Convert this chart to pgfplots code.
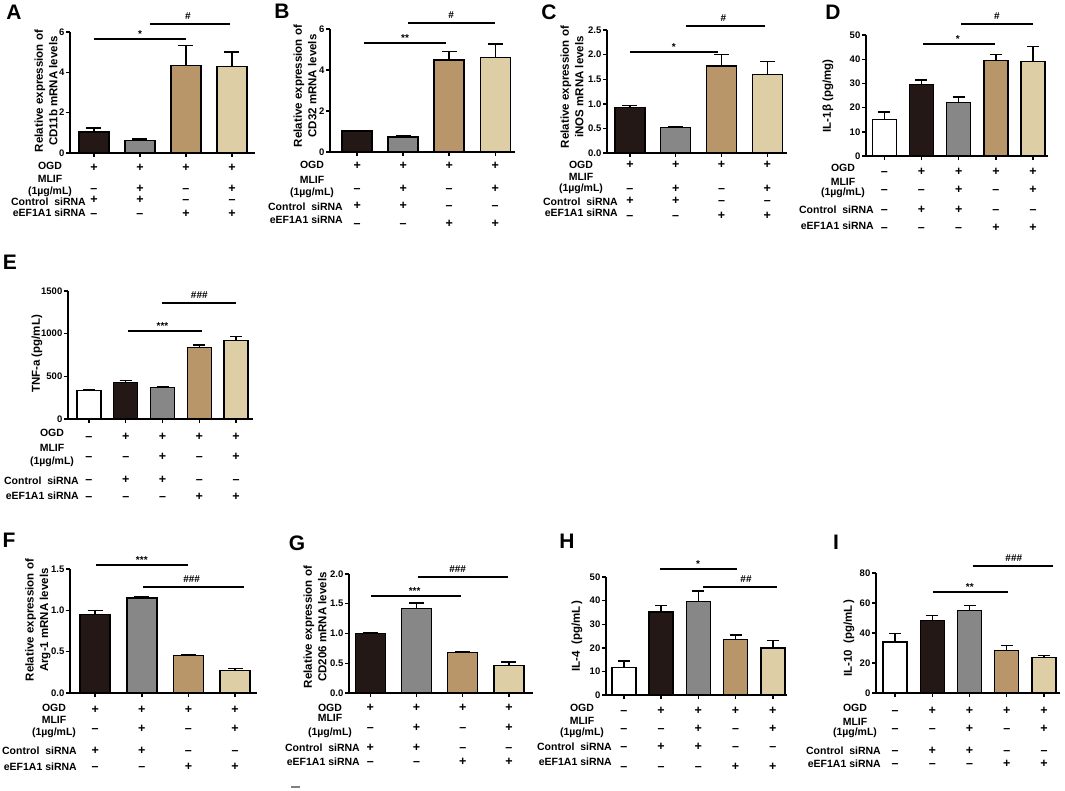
\documentclass[border=0pt]{standalone}
\usepackage{pgfplots}
\pgfplotsset{compat=1.18}
\usepackage{fontspec}
\setmainfont{Liberation Sans}

\definecolor{cDk}{HTML}{231815}
\definecolor{cGr}{HTML}{878787}
\definecolor{cTn}{HTML}{B8966A}
\definecolor{cBg}{HTML}{DDCEA6}

\newcommand\fs[1]{\fontsize{#1}{#1}\selectfont\bfseries}
\protected\def\sg#1{\if#1+{+}\else\textendash\fi}

% one row of +/- under the bars, #1 = px below the x axis
\newcommand{\signs}[2]{\foreach \s [count=\i] in {#2}{%
  \edef\tmp{\noexpand\node[sgn] at (axis cs:\i,0) [yshift=-#1pt] {\noexpand\sg{\s}};}\tmp}}
\newcommand{\four}[4]{\signs{#1}{+,+,+,+}\signs{#2}{-,+,-,+}\signs{#3}{+,+,-,-}\signs{#4}{-,-,+,+}}
\newcommand{\five}[4]{\signs{#1}{-,+,+,+,+}\signs{#2}{-,-,+,-,+}\signs{#3}{-,+,+,-,-}\signs{#4}{-,-,-,+,+}}

% significance line: x1, x2, y, x of text, text, text lift
\newcommand{\sig}[6]{\draw[line width=1.4pt] (axis cs:#1,#3) -- (axis cs:#2,#3);
  \node[anchor=south, inner sep=0pt, font=\fs{10}] at (axis cs:#4,#3) [yshift=#6pt] {#5};}

\newcommand{\pb}[4]{\addplot[bb, fill=#1] coordinates {(#2,#3) +- (0,#4)};}

\newcommand{\rowlabels}[7]{%
  \node[lab] at (#1pt,-#3pt) {OGD};
  \node[lab] at (#1pt,-#4pt) {MLIF};
  \node[lab] at (#1pt,-#5pt) {(1µg/mL)};
  \node[lab, anchor=east] at (#2pt,-#6pt) {Control\ \ siRNA};
  \node[lab, anchor=east] at (#2pt,-#7pt) {eEF1A1 siRNA};}

\pgfplotsset{
  panel/.style={
    scale only axis, anchor=south west, clip=false,
    axis lines=left, axis line style={line width=1.4pt, -},
    tick align=outside, major tick length=4pt,
    tick style={line width=1.4pt, black},
    xticklabels={}, ymin=0, scaled y ticks=false,
    yticklabel style={font=\fs{9.5}, inner sep=1.5pt},
    /pgf/number format/assume math mode=true,
    /pgf/number format/1000 sep={},
    error bars/y dir=plus, error bars/y explicit,
    error bars/error bar style={line width=1.4pt, black},
  },
  four/.style={panel, xtick={1,2,3,4}, bar width=30pt,
    error bars/error mark options={rotate=90, mark size=7.5pt, line width=1.4pt, black}},
  five/.style={panel, xtick={1,2,3,4,5}, bar width=24pt,
    error bars/error mark options={rotate=90, mark size=6pt, line width=1.4pt, black}},
  dec/.style={yticklabel style={/pgf/number format/fixed, /pgf/number format/fixed zerofill,
    /pgf/number format/precision=1}},
  bb/.style={ybar, bar shift=0pt, draw=black, line width=1.4pt},
}

\begin{document}
\begin{tikzpicture}[
  sgn/.style={font=\fs{12.5}, inner sep=0pt, text height=7pt, text depth=0pt},
  lab/.style={font=\fs{10.5}, inner sep=0pt},
  yl/.style={rotate=90, align=center, inner sep=0pt, font=\fontsize{11.5}{14.5}\selectfont\bfseries},
  pl/.style={font=\fs{21}, inner sep=0pt}]
\useasboundingbox (0,0) rectangle (1065pt,-790pt);

% ---- A
\begin{axis}[four, at={(70pt,-153pt)}, width=185pt, height=121pt,
  xmin=0.48, xmax=4.5, ymax=6, ytick={0,2,4,6}]
\pb{cDk}{1}{1.04}{0.20}
\pb{cGr}{2}{0.63}{0.06}
\pb{cTn}{3}{4.35}{0.99}
\pb{cBg}{4}{4.30}{0.70}
\sig{1}{3}{5.65}{2}{*}{1}
\sig{2.22}{3.96}{6.4}{3.04}{\#}{4}
\four{15}{36}{47}{61}
\end{axis}

% ---- B
\begin{axis}[four, at={(330pt,-152pt)}, width=185pt, height=123pt,
  xmin=0.41, xmax=4.43, ymax=6, ytick={0,2,4,6}]
\pb{cDk}{1}{1.03}{0.03}
\pb{cGr}{2}{0.74}{0.04}
\pb{cTn}{3}{4.49}{0.41}
\pb{cBg}{4}{4.62}{0.64}
\sig{1.15}{2.93}{5.32}{2.04}{**}{1}
\sig{2.1}{4.0}{6.3}{3.04}{\#}{4}
\four{14}{37}{54}{72}
\end{axis}

% ---- C
\begin{axis}[four, dec, at={(607pt,-153pt)}, width=180pt, height=123pt,
  xmin=0.5, xmax=4.43, ymax=2.5, ytick={0,0.5,1,1.5,2,2.5}]
\pb{cDk}{1}{0.92}{0.05}
\pb{cGr}{2}{0.52}{0.02}
\pb{cTn}{3}{1.77}{0.23}
\pb{cBg}{4}{1.60}{0.26}
\sig{1.0}{2.93}{2.05}{1.96}{*}{1}
\sig{2.22}{3.96}{2.58}{3.04}{\#}{4}
\four{12}{36}{48}{63}
\end{axis}

% ---- D
\begin{axis}[five, at={(866pt,-156pt)}, width=182pt, height=121pt,
  xmin=0.51, xmax=5.4, ymax=50, ytick={0,10,20,30,40,50}]
\pb{white}{1}{15.1}{3.1}
\pb{cDk}{2}{29.6}{1.8}
\pb{cGr}{3}{22.0}{2.4}
\pb{cTn}{4}{39.4}{2.6}
\pb{cBg}{5}{39.0}{6.2}
\sig{2.05}{3.97}{46.3}{2.98}{*}{1}
\sig{3.07}{5.0}{54.5}{4.03}{\#}{4}
\five{16}{34}{54}{72}
\end{axis}

% ---- E
\begin{axis}[five, at={(68pt,-419pt)}, width=185pt, height=128pt,
  xmin=0.43, xmax=5.46, ymax=1500, ytick={0,500,1000,1500}]
\pb{white}{1}{332}{16}
\pb{cDk}{2}{430}{19}
\pb{cGr}{3}{371}{8}
\pb{cTn}{4}{836}{31}
\pb{cBg}{5}{918}{47}
\sig{2.06}{4.07}{1031}{3.0}{***}{1}
\sig{2.99}{5.0}{1359}{4.0}{\#\#\#}{4}
\five{18}{38}{61}{78}
\end{axis}

% ---- F
\begin{axis}[four, dec, at={(70pt,-693pt)}, width=187pt, height=124pt,
  xmin=0.46, xmax=4.47, ymax=1.5, ytick={0,0.5,1,1.5}]
\pb{cDk}{1}{0.95}{0.05}
\pb{cGr}{2}{1.15}{0.01}
\pb{cTn}{3}{0.456}{0.008}
\pb{cBg}{4}{0.274}{0.026}
\sig{1.02}{3.0}{1.548}{2.0}{***}{1}
\sig{2.03}{4.2}{1.28}{3.07}{\#\#\#}{4}
\four{17}{36}{58}{74}
\end{axis}

% ---- G
\begin{axis}[four, dec, at={(349pt,-693pt)}, width=184pt, height=119pt,
  xmin=0.54, xmax=4.52, ymax=2, ytick={0,0.5,1,1.5,2}]
\pb{cDk}{1}{1.00}{0.02}
\pb{cGr}{2}{1.42}{0.09}
\pb{cTn}{3}{0.68}{0.01}
\pb{cBg}{4}{0.46}{0.06}
\sig{1.02}{2.96}{1.63}{1.96}{***}{1}
\sig{2.04}{3.98}{1.95}{2.89}{\#\#\#}{4}
\four{15}{35}{55}{69}
\end{axis}

% ---- H
\begin{axis}[five, at={(606pt,-695pt)}, width=181pt, height=118pt,
  xmin=0.52, xmax=5.38, ymax=50, ytick={0,10,20,30,40,50}]
\pb{white}{1}{11.7}{2.7}
\pb{cDk}{2}{35.2}{2.8}
\pb{cGr}{3}{39.7}{4.4}
\pb{cTn}{4}{23.5}{1.9}
\pb{cBg}{5}{20.0}{3.0}
\sig{1.97}{4.03}{53.4}{2.99}{*}{1}
\sig{3.12}{5.1}{45.8}{4.28}{\#\#}{4}
\five{16}{34}{52}{72}
\end{axis}

% ---- I
\begin{axis}[five, at={(876pt,-693pt)}, width=184pt, height=120pt,
  xmin=0.49, xmax=5.43, ymax=80, ytick={0,20,40,60,80}]
\pb{white}{1}{34.0}{5.6}
\pb{cDk}{2}{48.4}{3.2}
\pb{cGr}{3}{55.1}{3.3}
\pb{cTn}{4}{28.2}{3.4}
\pb{cBg}{5}{23.8}{1.3}
\sig{2.02}{4.03}{67.3}{3.01}{**}{1}
\sig{3.09}{5.24}{84.7}{4.19}{\#\#\#}{4}
\five{18}{36}{58}{71}
\end{axis}

% y axis titles
\node[yl] at (46pt,-91pt) {Relative expression of\\CD11b mRNA levels};
\node[yl] at (305pt,-86pt) {Relative expression of\\CD32 mRNA levels};
\node[yl] at (572pt,-87pt) {Relative expression of\\iNOS mRNA levels};
\node[yl] at (828pt,-96pt) {IL-1β (pg/mg)};
\node[yl] at (37pt,-354pt) {TNF-a (pg/mL)};
\node[yl] at (38pt,-620pt) {Relative expression of\\Arg-1 mRNA levels};
\node[yl] at (315pt,-627pt) {Relative expression of\\CD206 mRNA levels};
\node[yl] at (577pt,-636pt) {IL-4\ \ (pg/mL\,)};
\node[yl] at (849pt,-638pt) {IL-10\ \ (pg/mL\,)};

% treatment rows
\rowlabels{50}{86}{166}{179}{192}{202}{213}
\rowlabels{312}{343}{165}{180}{193}{207}{220}
\rowlabels{581}{618}{165}{177}{189}{202}{213}
\rowlabels{843}{874}{168}{182}{193}{210}{226}
\rowlabels{52}{79}{433}{448}{462}{481}{496}
\rowlabels{54}{77}{708}{720}{733}{751}{767}
\rowlabels{330}{360}{708}{718}{733}{748}{762}
\rowlabels{582}{612}{708}{721}{733}{747}{762}
\rowlabels{855}{881}{708}{722}{733}{751}{764}

% panel letters
\node[pl] at (14pt,-12pt) {A};
\node[pl] at (282pt,-11pt) {B};
\node[pl] at (549pt,-12pt) {C};
\node[pl] at (833pt,-12pt) {D};
\node[pl] at (10pt,-262pt) {E};
\node[pl] at (9pt,-540pt) {F};
\node[pl] at (297pt,-543pt) {G};
\node[pl] at (567pt,-541pt) {H};
\node[pl] at (836pt,-542pt) {I};

\draw[gray, line width=1.2pt] (291pt,-787pt) -- (300pt,-787pt);
\end{tikzpicture}
\end{document}
